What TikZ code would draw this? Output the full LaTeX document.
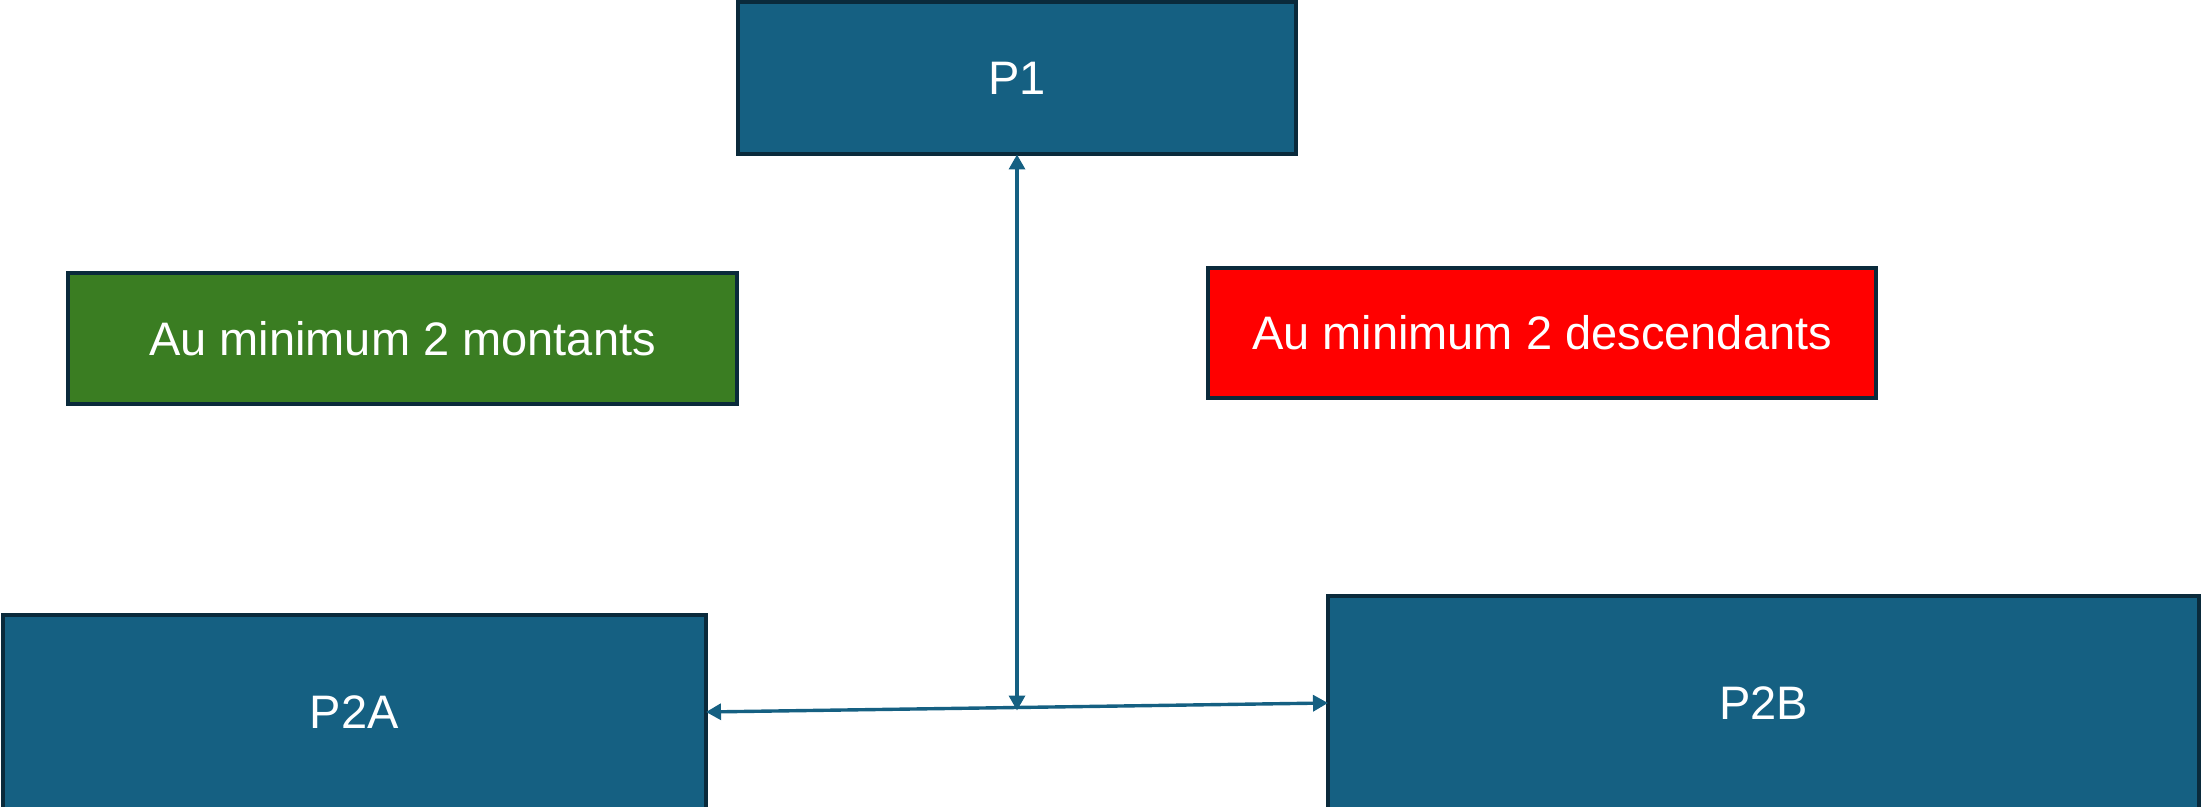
\documentclass[tikz,border=0pt]{standalone}
\usepackage{fontspec}
\setmainfont{Liberation Sans}
\usetikzlibrary{arrows.meta,calc}
\definecolor{boxblue}{HTML}{156082}
\definecolor{boxedge}{HTML}{0A2A3B}
\definecolor{boxgreen}{HTML}{3A7D22}
\definecolor{boxred}{HTML}{FF0000}
\tikzset{
  box/.style={draw=boxedge, line width=2pt, fill=boxblue, text=white,
    inner sep=0pt, outer sep=0pt,
    font=\fontsize{23.5}{28}\selectfont},
  conn/.style={draw=boxblue, line width=1.7pt,
    {Triangle[length=7.5pt,width=8pt]}-{Triangle[length=7.5pt,width=8pt]}}
}
\begin{document}
\begin{tikzpicture}[x=0.5pt,y=-0.5pt]
\useasboundingbox (0,0) rectangle (2202,807);
\node[box, minimum width=279pt, minimum height=76.25pt] (P1) at (1017,78.25) {P1};
\node[box, fill=boxgreen, minimum width=334.5pt, minimum height=65.5pt] (G) at (402.5,338.5) {Au minimum 2 montants};
\node[box, fill=boxred, minimum width=334pt, minimum height=65pt] (R) at (1542,333) {Au minimum 2 descendants};
\node[box, minimum width=351.75pt, minimum height=97pt] (P2A) at (354.25,712) {P2A};
\node[box, minimum width=435.5pt, minimum height=107pt] (P2B) at (1763.5,703) {P2B};
\draw[conn] (P2A.east) -- (P2B.west);
\coordinate (m) at ($(P2A.east)!0.498!(P2B.west)$);
\draw[conn, shorten <=-1.5pt] (P1.south |- m) -- (P1.south);
\end{tikzpicture}
\end{document}
